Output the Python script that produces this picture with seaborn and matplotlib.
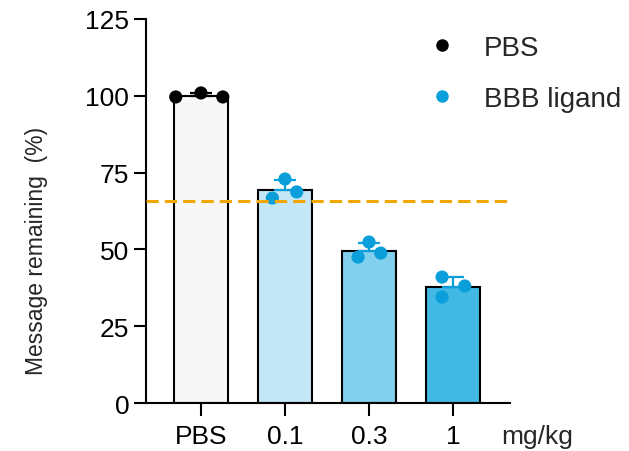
import numpy as np
import pandas as pd
import matplotlib
matplotlib.use("Agg")
import matplotlib.pyplot as plt
from matplotlib.lines import Line2D
import seaborn as sns

# Doses and replicate measurements (% message remaining)
groups = ["PBS", "0.1", "0.3", "1"]
rep_pbs = [99.6, 100.9, 99.6]
rep_01 = [66.7, 72.9, 68.7]
rep_03 = [47.5, 52.4, 48.8]
rep_1 = [41.0, 38.1, 34.5]
threshold = 65.9
y_ticks = [0, 25, 50, 75, 100, 125]
dose_unit = "mg/kg"
legend_labels = ["PBS", "BBB ligand"]

replicates = [rep_pbs, rep_01, rep_03, rep_1]
df = pd.DataFrame({
    "group": np.repeat(groups, [len(r) for r in replicates]),
    "value": np.concatenate(replicates),
})

# styling
bar_fills = ["#f7f7f7", "#c3e7f6", "#80d0ee", "#41b9e4"]
dot_black = "#000000"
dot_blue = "#0a9fdb"
dash_orange = "#f0a800"
point_spread = [[-0.30, 0.0, 0.26], [-0.15, 0.0, 0.14],
                [-0.13, 0.0, 0.14], [-0.13, 0.14, -0.13]]

sns.set_theme(style="ticks")
plt.rcParams["font.family"] = ["Liberation Sans", "DejaVu Sans"]

fig = plt.figure(figsize=(6.29, 4.52), dpi=100)
ax = fig.add_axes([0.232, 0.106, 0.579, 0.850])

sns.barplot(data=df, x="group", y="value", hue="group", palette=bar_fills,
            order=groups, hue_order=groups, errorbar=None, width=0.64,
            saturation=1, edgecolor="black", linewidth=1.5, legend=False,
            ax=ax, zorder=2)

for i, reps in enumerate(replicates):
    col = dot_black if i == 0 else dot_blue
    m = np.mean(reps)
    sd = np.std(reps, ddof=1)
    ax.errorbar([i], [m], yerr=[[0], [sd]], fmt="none", ecolor=col,
                elinewidth=1.6, capsize=8, capthick=1.6, zorder=3)
    xs = i + np.array(point_spread[i])
    ax.scatter(xs, reps, s=90, color=col, edgecolor="none", zorder=4)

ax.axhline(threshold, color=dash_orange, lw=2.2, ls=(0, (4, 2)), zorder=5)

ax.set_ylim(0, 125)
ax.set_yticks(y_ticks)
ax.set_xlim(-0.655, 3.68)
ax.set_xlabel("")
ax.set_ylabel("")
ax.tick_params(axis="both", labelsize=19, width=1.5, length=9, color="black",
               labelcolor="black")
ax.tick_params(axis="x", pad=6)
ax.tick_params(axis="y", pad=3)
for side in ["left", "bottom"]:
    ax.spines[side].set_linewidth(1.5)
    ax.spines[side].set_color("black")
sns.despine(ax=ax)

fig.text(37 / 629, 1 - 251 / 452, "Message remaining  (%)", fontsize=16.5,
         rotation=90, ha="center", va="center")
fig.text(537 / 629, 1 - 437 / 452, dose_unit, fontsize=19,
         ha="center", va="center")

handles = [Line2D([], [], ls="none", marker="o", ms=8, color=dot_black),
           Line2D([], [], ls="none", marker="o", ms=8, color=dot_blue)]
fig.legend(handles, legend_labels, loc="upper left",
           bbox_to_anchor=(403 / 629, 1 - 11 / 452), frameon=False,
           fontsize=20, labelspacing=0.9, handletextpad=1.0,
           handlelength=1.0)

fig.savefig("out.png", dpi=100)
